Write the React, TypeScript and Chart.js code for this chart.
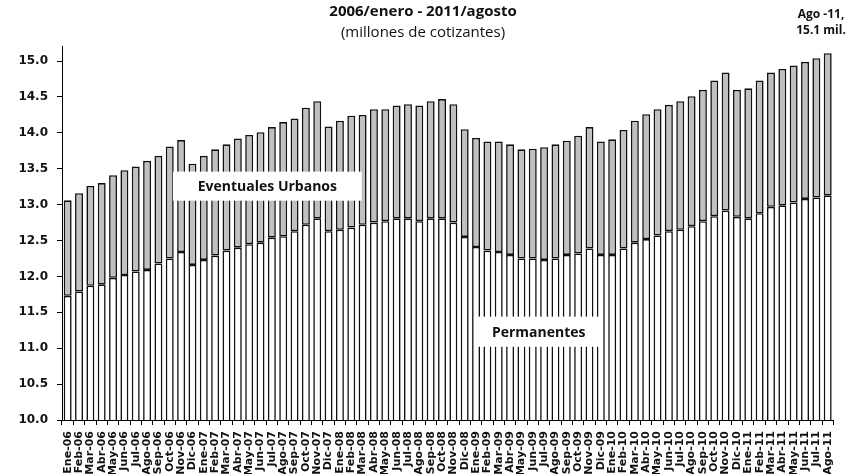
import React, { useEffect, useRef } from "react";
import { Chart, registerables } from "chart.js";

Chart.register(...registerables);

const categories = [
  "Ene-06", "Feb-06", "Mar-06", "Abr-06", "May-06", "Jun-06", "Jul-06", "Ago-06", "Sep-06", "Oct-06", "Nov-06", "Dic-06",
  "Ene-07", "Feb-07", "Mar-07", "Abr-07", "May-07", "Jun-07", "Jul-07", "Ago-07", "Sep-07", "Oct-07", "Nov-07", "Dic-07",
  "Ene-08", "Feb-08", "Mar-08", "Abr-08", "May-08", "Jun-08", "Jul-08", "Ago-08", "Sep-08", "Oct-08", "Nov-08", "Dic-08",
  "Ene-09", "Feb-09", "Mar-09", "Abr-09", "May-09", "Jun-09", "Jul-09", "Ago-09", "Sep-09", "Oct-09", "Nov-09", "Dic-09",
  "Ene-10", "Feb-10", "Mar-10", "Abr-10", "May-10", "Jun-10", "Jul-10", "Ago-10", "Sep-10", "Oct-10", "Nov-10", "Dic-10",
  "Ene-11", "Feb-11", "Mar-11", "Abr-11", "May-11", "Jun-11", "Jul-11", "Ago-11",
];

const permanentes = [
  11.73, 11.79, 11.87, 11.89, 11.98, 12.02, 12.07, 12.09, 12.18, 12.25, 12.34, 12.16,
  12.23, 12.29, 12.36, 12.40, 12.45, 12.47, 12.54, 12.56, 12.63, 12.72, 12.81, 12.63,
  12.65, 12.68, 12.72, 12.75, 12.77, 12.81, 12.81, 12.77, 12.81, 12.81, 12.75, 12.55,
  12.41, 12.36, 12.34, 12.30, 12.25, 12.25, 12.23, 12.25, 12.30, 12.32, 12.39, 12.30,
  12.30, 12.39, 12.47, 12.52, 12.57, 12.63, 12.65, 12.70, 12.77, 12.84, 12.92, 12.83,
  12.81, 12.88, 12.97, 12.99, 13.03, 13.08, 13.10, 13.13,
];

const eventualesUrbanos = [
  1.33, 1.37, 1.39, 1.41, 1.43, 1.46, 1.46, 1.52, 1.50, 1.56, 1.56, 1.41,
  1.45, 1.48, 1.48, 1.52, 1.52, 1.54, 1.54, 1.59, 1.57, 1.63, 1.63, 1.46,
  1.52, 1.56, 1.53, 1.58, 1.56, 1.57, 1.59, 1.61, 1.63, 1.66, 1.65, 1.50,
  1.52, 1.52, 1.54, 1.54, 1.52, 1.53, 1.57, 1.59, 1.59, 1.64, 1.69, 1.58,
  1.61, 1.65, 1.70, 1.74, 1.76, 1.76, 1.79, 1.81, 1.83, 1.89, 1.92, 1.77,
  1.81, 1.85, 1.87, 1.90, 1.91, 1.91, 1.94, 1.98,
];

const yTickValues = [10.0, 10.5, 11.0, 11.5, 12.0, 12.5, 13.0, 13.5, 14.0, 14.5, 15.0];

const TITLE = "2006/enero - 2011/agosto";
const SUBTITLE = "(millones de cotizantes)";
const NOTE_LINES = ["Ago -11,", "15.1 mil."];
const LABEL_EVENTUALES = "Eventuales Urbanos";
const LABEL_PERMANENTES = "Permanentes";

const W = 847;
const H = 474;

// label boxes in data coordinates (category index, value)
const boxes = [
  { text: LABEL_EVENTUALES, x0: 9.28, x1: 25.93, yTop: 13.46, yBottom: 13.055 },
  { text: LABEL_PERMANENTES, x0: 36.15, x1: 46.9, yTop: 11.44, yBottom: 11.02 },
];

const annotationPlugin = {
  id: "labelsAndTitles",
  afterDatasetsDraw(chart: any) {
    const ctx = chart.ctx;
    const xs = chart.scales.x;
    const ys = chart.scales.y;
    ctx.save();
    for (const b of boxes) {
      const l = xs.getPixelForValue(b.x0);
      const r = xs.getPixelForValue(b.x1);
      const t = ys.getPixelForValue(b.yTop);
      const bo = ys.getPixelForValue(b.yBottom);
      ctx.fillStyle = "#ffffff";
      ctx.fillRect(l, t, r - l, bo - t);
      ctx.fillStyle = "#111111";
      ctx.font = "bold 14px 'Open Sans'";
      ctx.textAlign = "center";
      ctx.textBaseline = "middle";
      ctx.fillText(b.text, (l + r) / 2, (t + bo) / 2 + 1);
    }
    ctx.restore();
  },
  afterDraw(chart: any) {
    const ctx = chart.ctx;
    ctx.save();
    ctx.fillStyle = "#111111";
    ctx.textAlign = "center";
    ctx.textBaseline = "middle";
    ctx.font = "bold 15px 'Open Sans'";
    ctx.fillText(TITLE, 423, 12);
    ctx.font = "15px 'Open Sans'";
    ctx.fillText(SUBTITLE, 423, 33);
    ctx.font = "bold 12px 'Open Sans'";
    ctx.fillText(NOTE_LINES[0], 821, 15);
    ctx.fillText(NOTE_LINES[1], 821, 31);
    ctx.restore();
  },
};

export default function App() {
  const ref = useRef<HTMLCanvasElement | null>(null);
  useEffect(() => {
    if (!ref.current) return;
    const chart = new Chart(ref.current, {
      type: "bar",
      data: {
        labels: categories,
        datasets: [
          {
            label: LABEL_PERMANENTES,
            data: permanentes,
            backgroundColor: "#ffffff",
            borderColor: "#111111",
            borderWidth: 1.6,
            borderSkipped: false,
            clip: 0,
          },
          {
            label: LABEL_EVENTUALES,
            data: eventualesUrbanos,
            backgroundColor: "#c0c0c0",
            borderColor: "#111111",
            borderWidth: 1.6,
            borderSkipped: false,
            clip: 0,
          },
        ],
      },
      options: {
        responsive: false,
        animation: false,
        devicePixelRatio: 1,
        layout: { padding: { top: 46, right: 13, left: 0, bottom: 0 } },
        datasets: { bar: { categoryPercentage: 0.7, barPercentage: 1 } },
        plugins: {
          legend: { display: false },
          title: { display: false },
          tooltip: { enabled: false },
        },
        scales: {
          x: {
            stacked: true,
            offset: true,
            z: 1,
            grid: {
              offset: true,
              drawOnChartArea: false,
              drawTicks: true,
              tickLength: 5,
              color: "#000000",
            },
            border: { display: true, color: "#000000", width: 1 },
            ticks: {
              autoSkip: false,
              minRotation: 90,
              maxRotation: 90,
              padding: 6,
              color: "#111111",
              font: { family: "'DejaVu Sans'", size: 11, weight: "bold" },
            },
            afterFit(scale: any) {
              scale.height = 54;
            },
          },
          y: {
            stacked: true,
            min: 10,
            max: 15.21,
            z: 1,
            grid: {
              drawOnChartArea: false,
              drawTicks: true,
              tickLength: 5,
              color: "#000000",
            },
            border: { display: true, color: "#000000", width: 1 },
            ticks: {
              padding: 9,
              color: "#111111",
              font: { family: "'DejaVu Sans'", size: 12, weight: "bold" },
              callback: (v: any) => Number(v).toFixed(1),
            },
            afterBuildTicks(scale: any) {
              scale.ticks = yTickValues.map((v) => ({ value: v }));
            },
            afterFit(scale: any) {
              scale.width = 62;
            },
          },
        },
      },
      plugins: [annotationPlugin],
    });
    return () => chart.destroy();
  }, []);
  return (
    <div style={{ position: "fixed", left: 0, top: 0, width: W, height: H, background: "#ffffff" }}>
      <canvas ref={ref} width={W} height={H} style={{ display: "block", width: W, height: H }} />
    </div>
  );
}
